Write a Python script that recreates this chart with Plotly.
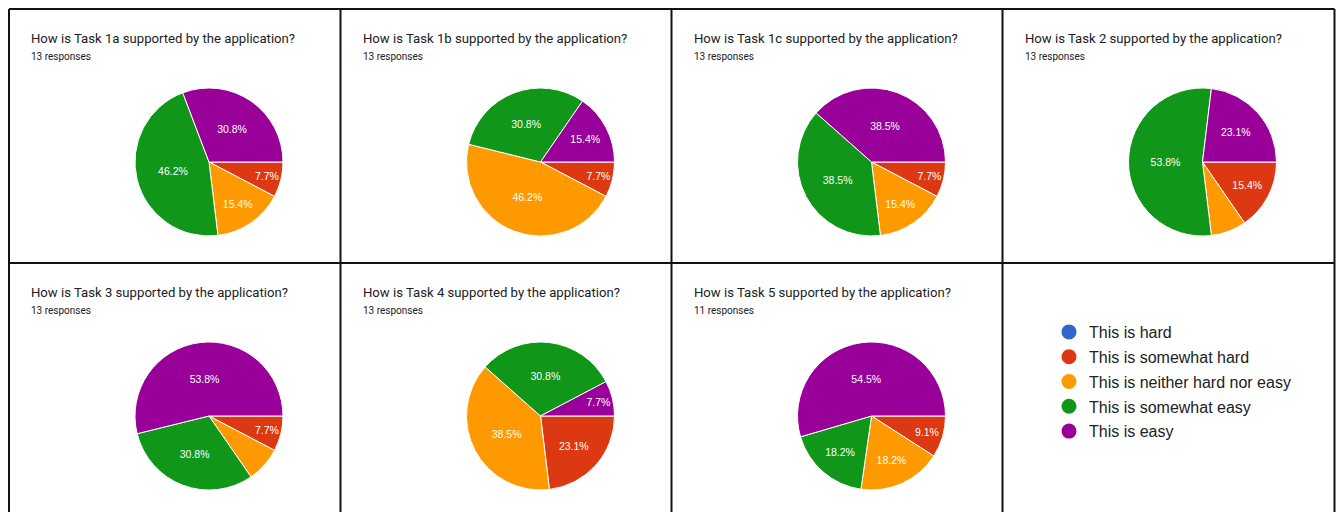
import plotly.graph_objects as go

W, H = 1336, 512
OFF = 0  # body margin is removed by the post script below

# ---------------- data ----------------
categories = ["This is hard", "This is somewhat hard", "This is neither hard nor easy",
              "This is somewhat easy", "This is easy"]
colors = ["#3366cc", "#dc3912", "#ff9900", "#109618", "#990099"]

tasks = ["Task 1a", "Task 1b", "Task 1c", "Task 2", "Task 3", "Task 4", "Task 5"]
counts_1a = [0, 1, 2, 6, 4]
counts_1b = [0, 1, 6, 4, 2]
counts_1c = [0, 1, 2, 5, 5]
counts_2 = [0, 2, 1, 7, 3]
counts_3 = [0, 1, 1, 4, 7]
counts_4 = [0, 3, 5, 4, 1]
counts_5 = [0, 1, 2, 2, 6]
all_counts = [counts_1a, counts_1b, counts_1c, counts_2, counts_3, counts_4, counts_5]
# slices whose percentage label is not printed in the reference (too small)
hidden_labels = [[], [], [], [2], [2], [], []]

# ---------------- layout constants (page pixels) ----------------
col_left = [9, 340.5, 671.5, 1002.5]
right_edge = 1334.5
row_top = [9, 263]
pie_dx, pie_dy, pie_r = 200, 153, 74

def px_x(x):
    return (x - OFF) / W

def px_y(y):
    return 1 - (y - OFF) / H

fig = go.Figure()
annotations = []

for i, (task, counts) in enumerate(zip(tasks, all_counts)):
    r, c = divmod(i, 4)
    left, top = col_left[c], row_top[r]
    cx, cy = left + pie_dx, top + pie_dy
    total = sum(counts)
    text = []
    for k, v in enumerate(counts):
        if v == 0 or k in hidden_labels[i]:
            text.append("")
        else:
            text.append(f"{100 * v / total:.1f}%")
    fig.add_trace(go.Pie(
        labels=categories, values=counts, text=text,
        textinfo="text", textposition="inside", insidetextorientation="horizontal",
        textfont=dict(family="Arial, Liberation Sans", size=10.5, color="white"),
        marker=dict(colors=colors, line=dict(color="white", width=1)),
        sort=False, direction="clockwise", rotation=90,
        domain=dict(x=[px_x(cx - pie_r), px_x(cx + pie_r)],
                    y=[px_y(cy + pie_r), px_y(cy - pie_r)]),
        showlegend=False, hoverinfo="label+percent",
    ))
    annotations.append(dict(
        text=f"How is {task} supported by the application?",
        x=px_x(left + 20), y=px_y(top + 29), xref="paper", yref="paper",
        xanchor="left", yanchor="middle", showarrow=False,
        font=dict(family="Roboto", size=13.15, color="#202124")))
    annotations.append(dict(
        text=f"{total} responses",
        x=px_x(left + 20), y=px_y(top + 47), xref="paper", yref="paper",
        xanchor="left", yanchor="middle", showarrow=False,
        font=dict(family="Roboto", size=10, color="#202124")))

# legend entries (circles)
for cat, col in zip(categories, colors):
    fig.add_trace(go.Scatter(
        x=[None], y=[None], mode="markers", name=cat, legendgroup=cat,
        marker=dict(symbol="circle", size=15, color=col), showlegend=True))

# panel borders
shapes = []
line = dict(color="#111111", width=2)
for y in row_top:
    shapes.append(dict(type="line", xref="paper", yref="paper",
                       x0=px_x(col_left[0]), x1=px_x(right_edge),
                       y0=px_y(y), y1=px_y(y), line=line))
for x in col_left + [right_edge]:
    shapes.append(dict(type="line", xref="paper", yref="paper",
                       x0=px_x(x), x1=px_x(x), y0=px_y(row_top[0]), y1=px_y(H + 5),
                       line=line))

fig.update_layout(
    width=W, height=H,
    margin=dict(l=0, r=0, t=0, b=0),
    paper_bgcolor="white", plot_bgcolor="white",
    xaxis=dict(visible=False), yaxis=dict(visible=False),
    annotations=annotations, shapes=shapes,
    showlegend=True,
    legend=dict(x=px_x(1049), y=px_y(315), xanchor="left", yanchor="top",
                traceorder="grouped", tracegroupgap=1, itemwidth=30,
                font=dict(family="Arial, Liberation Sans", size=16, color="#202124"),
                bgcolor="rgba(0,0,0,0)"),
    uniformtext=dict(minsize=10, mode="show"),
)

fig.write_html("out.html", config={"displayModeBar": False},
               post_script="document.body.style.margin='0';document.body.style.overflow='hidden';")
